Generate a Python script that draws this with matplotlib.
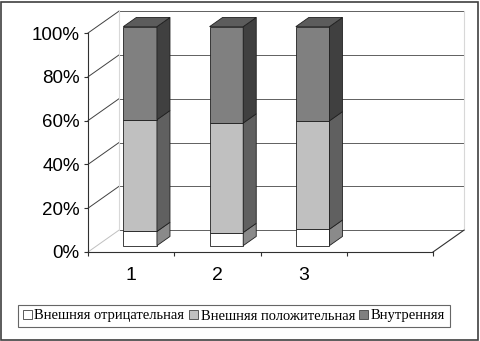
import numpy as np
import matplotlib.pyplot as plt
from matplotlib.patches import Polygon

# data (percent shares per group)
categories = ['1', '2', '3']
series_names = ['Внешняя отрицательная', 'Внешняя положительная', 'Внутренняя']
neg_ext = [6.5, 6.0, 7.5]
pos_ext = [51.0, 50.0, 49.5]
internal = [42.5, 44.0, 43.0]

front_colors = ['#ffffff', '#c0c0c0', '#808080']
side_colors = ['#8a8a8a', '#606060', '#404040']
top_color = '#5c5c5c'

n_slots = 4          # excel leaves an empty 4th slot
DX, DY = 0.36, 10.0  # depth of the 3d box in data units
bw = 0.39            # bar width
f0, f1 = 0.29, 0.71  # bar depth range inside the box

fig = plt.figure(figsize=(4.8, 3.41), dpi=100)
W, H = 480, 341
ax = fig.add_axes([88 / W, (H - 252) / H, (433 - 88) / W, (252 - 33) / H])
ax.set_xlim(0.5, n_slots + 0.5)
ax.set_ylim(0, 100)
ax.set_facecolor('none')
for s in ['top', 'right']:
    ax.spines[s].set_visible(False)
ax.spines['left'].set_color('#303030')
ax.spines['bottom'].set_color('#303030')
ax.spines['left'].set_linewidth(0.8)
ax.spines['bottom'].set_linewidth(0.8)

yt = np.arange(0, 101, 20)
ax.set_yticks(yt)
ax.set_yticklabels([f'{v}%' for v in yt], fontsize=13.5, family='Liberation Sans')
ax.tick_params(axis='y', length=3, width=0.8, pad=3, colors='#303030', labelcolor='black')
ax.set_xticks(np.arange(0.5, n_slots + 1, 1))
ax.set_xticklabels([])
ax.tick_params(axis='x', length=3, width=0.8, colors='#303030')
ax.set_xticks(range(1, len(categories) + 1), minor=True)
ax.set_xticklabels(categories, minor=True, fontsize=14, family='Liberation Sans')
ax.tick_params(axis='x', which='minor', length=0, pad=11)

x0, x1 = 0.5, n_slots + 0.5
# back wall gridlines and side wall diagonals
for v in yt:
    ax.plot([x0 + DX, x1 + DX], [v + DY, v + DY], color='#606060', lw=0.7, clip_on=False, zorder=1)
    ax.plot([x0, x0 + DX], [v, v + DY], color='#404040' if v else '#c0c0c0', lw=0.7, clip_on=False, zorder=1)
# wall edges
ax.plot([x0 + DX, x0 + DX], [DY, 100 + DY], color='#d8d8d8', lw=0.8, clip_on=False, zorder=1)
ax.plot([x1 + DX, x1 + DX], [DY, 100 + DY], color='#d8d8d8', lw=0.8, clip_on=False, zorder=1)
ax.plot([x1, x1 + DX], [0, DY], color='#303030', lw=0.8, clip_on=False, zorder=1)

# stacked 3d bars
stack = np.array([neg_ext, pos_ext, internal])
for i in range(len(categories)):
    c = i + 1
    xl = c - bw / 2 + f0 * DX
    xr = c + bw / 2 + f0 * DX
    ddx = (f1 - f0) * DX
    ddy = (f1 - f0) * DY
    base = 0.0
    for k in range(3):
        lo = base + f0 * DY
        hi = base + stack[k, i] + f0 * DY
        front = Polygon([(xl, lo), (xr, lo), (xr, hi), (xl, hi)], closed=True,
                        facecolor=front_colors[k], edgecolor='#202020', lw=0.6, zorder=3, clip_on=False)
        side = Polygon([(xr, lo), (xr + ddx, lo + ddy), (xr + ddx, hi + ddy), (xr, hi)], closed=True,
                       facecolor=side_colors[k], edgecolor='#202020', lw=0.6, zorder=3, clip_on=False)
        ax.add_patch(front)
        ax.add_patch(side)
        base += stack[k, i]
    top = base + f0 * DY
    ax.add_patch(Polygon([(xl, top), (xr, top), (xr + ddx, top + ddy), (xl + ddx, top + ddy)], closed=True,
                         facecolor=top_color, edgecolor='#202020', lw=0.6, zorder=3, clip_on=False))

# legend
handles = [plt.Rectangle((0, 0), 1, 1, facecolor=front_colors[k], edgecolor='#404040', lw=0.6) for k in range(3)]
leg = fig.legend(handles, series_names, loc='center', bbox_to_anchor=(234 / W, 1 - 316 / H), ncol=3,
                 frameon=True, fancybox=False, prop={'family': 'Liberation Serif', 'size': 10.5},
                 handlelength=0.6, handleheight=0.6, handletextpad=0.2, columnspacing=0.3,
                 borderpad=0.3, borderaxespad=0)
leg.get_frame().set_edgecolor('#404040')
leg.get_frame().set_linewidth(0.8)

# outer border
fig.patches.append(plt.Rectangle((0.003, 0.004), 0.993, 0.99, transform=fig.transFigure, fill=False,
                                 edgecolor='#404040', lw=1.2))

fig.savefig('out.png', dpi=100)
